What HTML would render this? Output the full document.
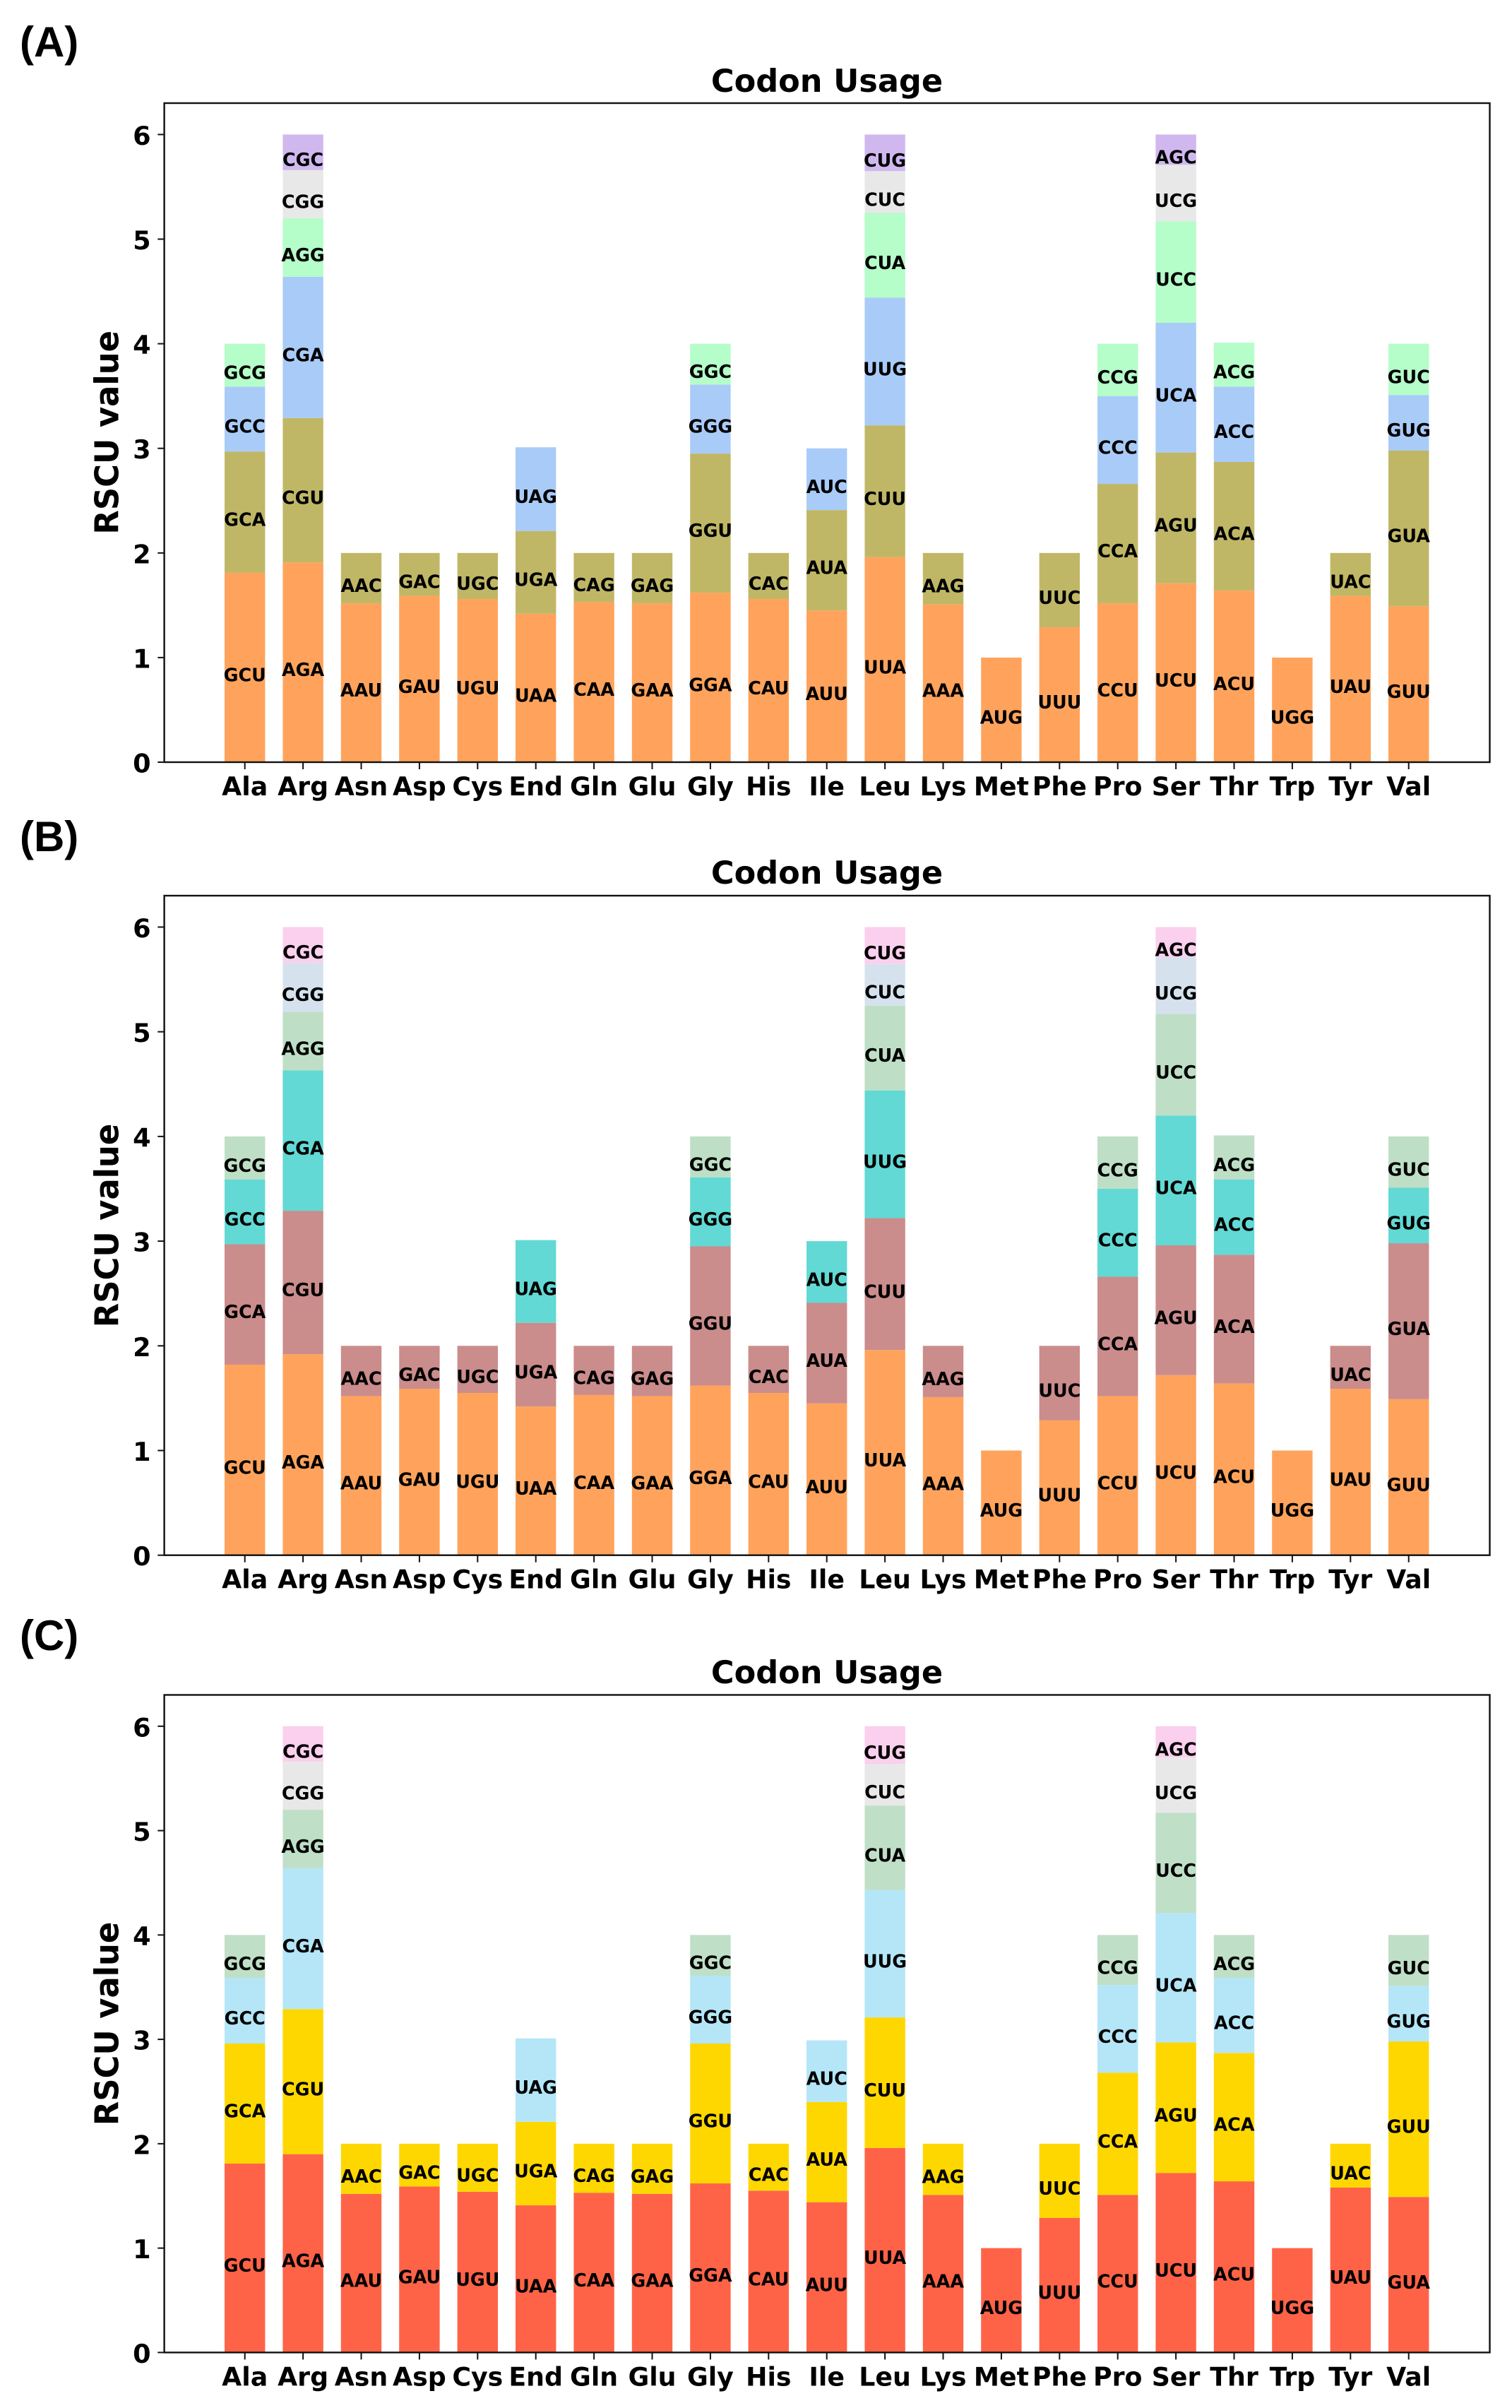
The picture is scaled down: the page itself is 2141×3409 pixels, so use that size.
<!DOCTYPE html>
<html lang="en">
<head>
<meta charset="utf-8">
<title>Codon Usage RSCU panels</title>
<style>
html,body{margin:0;padding:0;background:#fff;}
svg{display:block;}
text{font-family:"DejaVu Sans","Liberation Sans",sans-serif;font-weight:bold;fill:#000;}
.letter{font-family:"Liberation Sans","DejaVu Sans",sans-serif;font-size:60px;}
.title{font-size:44.6px;text-anchor:middle;}
.ylabel{font-size:44.8px;text-anchor:middle;}
.ytick{font-size:36.6px;text-anchor:end;}
.xtick{font-size:36.3px;text-anchor:middle;}
.codon{font-size:25.4px;text-anchor:middle;}
</style>
</head>
<body>
<svg id="figure" xmlns="http://www.w3.org/2000/svg" width="2141" height="3409" viewBox="0 0 2141 3409">
  <rect x="0" y="0" width="2141" height="3409" fill="#fff"/>

  <g id="panel-a">
    <text class="letter" x="28" y="80">(A)</text>
    <text class="title" x="1171" y="130">Codon Usage</text>
    <text class="ylabel" transform="translate(167.5 612.3) rotate(-90) scale(1 1.04)">RSCU value</text>
  </g>
  <g id="panel-b">
    <text class="letter" x="28" y="1205">(B)</text>
    <text class="title" x="1171" y="1251">Codon Usage</text>
    <text class="ylabel" transform="translate(167.5 1735) rotate(-90) scale(1 1.04)">RSCU value</text>
  </g>
  <g id="panel-c">
    <text class="letter" x="28" y="2336">(C)</text>
    <text class="title" x="1171" y="2383">Codon Usage</text>
    <text class="ylabel" transform="translate(167.5 2865) rotate(-90) scale(1 1.04)">RSCU value</text>
  </g>
</svg>

<script>
// ---------- chart data ----------
const aminoAcids = ["Ala","Arg","Asn","Asp","Cys","End","Gln","Glu","Gly","His","Ile","Leu","Lys","Met","Phe","Pro","Ser","Thr","Trp","Tyr","Val"];
const yTickValues = [0,1,2,3,4,5,6];

const codonsAB = [
  ["GCU","GCA","GCC","GCG"],
  ["AGA","CGU","CGA","AGG","CGG","CGC"],
  ["AAU","AAC"],
  ["GAU","GAC"],
  ["UGU","UGC"],
  ["UAA","UGA","UAG"],
  ["CAA","CAG"],
  ["GAA","GAG"],
  ["GGA","GGU","GGG","GGC"],
  ["CAU","CAC"],
  ["AUU","AUA","AUC"],
  ["UUA","CUU","UUG","CUA","CUC","CUG"],
  ["AAA","AAG"],
  ["AUG"],
  ["UUU","UUC"],
  ["CCU","CCA","CCC","CCG"],
  ["UCU","AGU","UCA","UCC","UCG","AGC"],
  ["ACU","ACA","ACC","ACG"],
  ["UGG"],
  ["UAU","UAC"],
  ["GUU","GUA","GUG","GUC"]
];
const codonsC = [
  ["GCU","GCA","GCC","GCG"],
  ["AGA","CGU","CGA","AGG","CGG","CGC"],
  ["AAU","AAC"],
  ["GAU","GAC"],
  ["UGU","UGC"],
  ["UAA","UGA","UAG"],
  ["CAA","CAG"],
  ["GAA","GAG"],
  ["GGA","GGU","GGG","GGC"],
  ["CAU","CAC"],
  ["AUU","AUA","AUC"],
  ["UUA","CUU","UUG","CUA","CUC","CUG"],
  ["AAA","AAG"],
  ["AUG"],
  ["UUU","UUC"],
  ["CCU","CCA","CCC","CCG"],
  ["UCU","AGU","UCA","UCC","UCG","AGC"],
  ["ACU","ACA","ACC","ACG"],
  ["UGG"],
  ["UAU","UAC"],
  ["GUA","GUU","GUG","GUC"]
];

const rscuPanelA = [
  [1.81,1.16,0.62,0.41],
  [1.91,1.38,1.35,0.56,0.46,0.34],
  [1.52,0.48],
  [1.59,0.41],
  [1.56,0.44],
  [1.42,0.79,0.80],
  [1.53,0.47],
  [1.52,0.48],
  [1.62,1.33,0.66,0.39],
  [1.56,0.44],
  [1.45,0.96,0.59],
  [1.96,1.26,1.22,0.81,0.40,0.35],
  [1.51,0.49],
  [1.00],
  [1.29,0.71],
  [1.52,1.14,0.84,0.50],
  [1.71,1.25,1.24,0.97,0.54,0.29],
  [1.64,1.23,0.72,0.42],
  [1.00],
  [1.59,0.41],
  [1.49,1.49,0.53,0.49]
];
const rscuPanelB = [
  [1.82,1.15,0.62,0.41],
  [1.92,1.37,1.34,0.56,0.47,0.34],
  [1.52,0.48],
  [1.59,0.41],
  [1.55,0.45],
  [1.42,0.80,0.79],
  [1.53,0.47],
  [1.52,0.48],
  [1.62,1.33,0.66,0.39],
  [1.55,0.45],
  [1.45,0.96,0.59],
  [1.96,1.26,1.22,0.81,0.40,0.35],
  [1.51,0.49],
  [1.00],
  [1.29,0.71],
  [1.52,1.14,0.84,0.50],
  [1.72,1.24,1.24,0.97,0.54,0.29],
  [1.64,1.23,0.72,0.42],
  [1.00],
  [1.59,0.41],
  [1.49,1.49,0.53,0.49]
];
const rscuPanelC = [
  [1.81,1.15,0.63,0.41],
  [1.90,1.39,1.35,0.56,0.46,0.34],
  [1.52,0.48],
  [1.59,0.41],
  [1.54,0.46],
  [1.41,0.80,0.80],
  [1.53,0.47],
  [1.52,0.48],
  [1.62,1.34,0.65,0.39],
  [1.55,0.45],
  [1.44,0.96,0.59],
  [1.96,1.25,1.22,0.81,0.40,0.36],
  [1.51,0.49],
  [1.00],
  [1.29,0.71],
  [1.51,1.17,0.84,0.48],
  [1.72,1.25,1.24,0.96,0.53,0.30],
  [1.64,1.23,0.72,0.41],
  [1.00],
  [1.58,0.42],
  [1.49,1.49,0.53,0.49]
];

// ---------- palettes ----------
const paletteA = ["#FFA35C","#C0B766","#A9CBF8","#B5FDC9","#E8E8E8","#D0B8EF"];
const paletteB = ["#FFA35C","#CB8C8C","#62D9D4","#BEDFC6","#D5E2EE","#FBCFEE"];
const paletteC = ["#FF6347","#FFD700","#B4E6F7","#BFDFC7","#E8E8E8","#FBCFEE"];

// ---------- layout ----------
const SVG_NS = "http://www.w3.org/2000/svg";
const FRAME_LEFT = 232.6;
const FRAME_RIGHT = 2109.5;
const Y_MAX = 6.3;
const X_STEP = 82.4;
const X_FIRST = 346.7;
const BAR_WIDTH = 57.4;

function xScale(i) { return X_FIRST + i * X_STEP; }

function make(tag, attrs, parent) {
  const el = document.createElementNS(SVG_NS, tag);
  for (const k in attrs) el.setAttribute(k, attrs[k]);
  parent.appendChild(el);
  return el;
}

function drawPanel(groupId, prefix, frameTop, frameBottom, values, codons, palette) {
  const g = document.getElementById(groupId);
  const yScale = v => frameBottom - v * (frameBottom - frameTop) / Y_MAX;

  // stacked bars
  values.forEach((stack, i) => {
    let cum = 0;
    stack.forEach((val, j) => {
      const y0 = yScale(cum);
      const y1 = yScale(cum + val);
      const seg = make("rect", {
        x: xScale(i) - BAR_WIDTH / 2,
        y: y1,
        width: BAR_WIDTH,
        height: y0 - y1,
        fill: palette[j]
      }, g);
      
      
      cum += val;
    });
  });

  // codon labels (drawn above all segments)
  values.forEach((stack, i) => {
    let cum = 0;
    stack.forEach((val, j) => {
      const mid = (yScale(cum) + yScale(cum + val)) / 2;
      const label = make("text", {
        class: "codon",
        x: xScale(i),
        y: mid + 19.5
      }, g);
      label.textContent = codons[i][j];
      
      
      cum += val;
    });
  });

  // plot frame
  const frame = make("rect", {
    x: FRAME_LEFT,
    y: frameTop,
    width: FRAME_RIGHT - FRAME_LEFT,
    height: frameBottom - frameTop,
    fill: "none",
    stroke: "#111",
    "stroke-width": 2.4
  }, g);
  
  

  // y ticks
  yTickValues.forEach(v => {
    const tick = make("line", {
      x1: FRAME_LEFT - 9.3, x2: FRAME_LEFT,
      y1: yScale(v), y2: yScale(v),
      stroke: "#111", "stroke-width": 2
    }, g);
    
    
    const label = make("text", {
      class: "ytick",
      x: FRAME_LEFT - 19,
      y: yScale(v) + 14.5
    }, g);
    label.textContent = String(v);
    
    
  });

  // x ticks
  aminoAcids.forEach((name, i) => {
    const tick = make("line", {
      x1: xScale(i), x2: xScale(i),
      y1: frameBottom, y2: frameBottom + 10,
      stroke: "#111", "stroke-width": 2
    }, g);
    
    
    const label = make("text", {
      class: "xtick",
      x: xScale(i),
      y: frameBottom + 47
    }, g);
    label.textContent = name;
    
    
  });
}

drawPanel("panel-a", "panel-a", 146, 1079, rscuPanelA, codonsAB, paletteA);
drawPanel("panel-b", "panel-b", 1268, 2201.7, rscuPanelB, codonsAB, paletteB);
drawPanel("panel-c", "panel-c", 2399.5, 3330.4, rscuPanelC, codonsC, paletteC);
</script>
</body>
</html>
